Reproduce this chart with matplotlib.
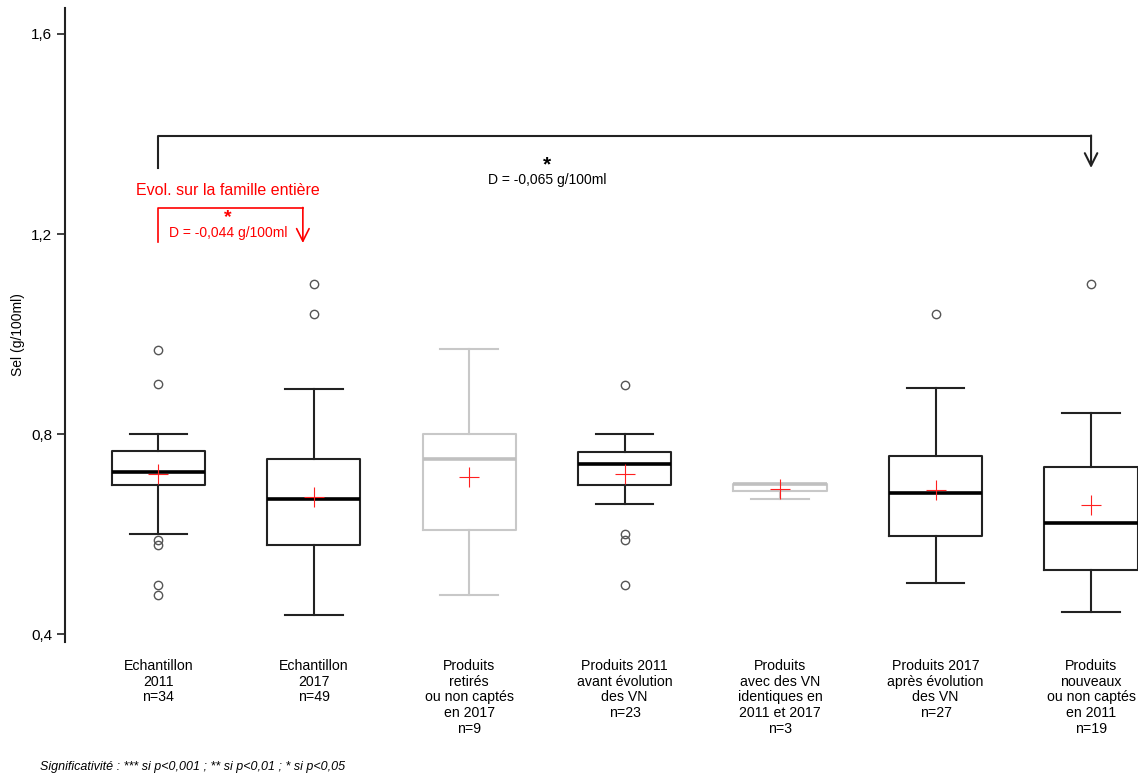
import matplotlib
matplotlib.use('Agg')
import matplotlib.pyplot as plt
from matplotlib.ticker import FuncFormatter

plt.rcParams['font.family'] = ['Liberation Sans', 'DejaVu Sans']

# box statistics (g/100ml)
labels = ["Echantillon\n2011\nn=34", "Echantillon\n2017\nn=49",
          "Produits\nretirés\nou non captés\nen 2017\nn=9",
          "Produits 2011\navant évolution\ndes VN\nn=23",
          "Produits\navec des VN\nidentiques en\n2011 et 2017\nn=3",
          "Produits 2017\naprès évolution\ndes VN\nn=27",
          "Produits\nnouveaux\nou non captés\nen 2011\nn=19"]
whislo = [0.600, 0.439, 0.479, 0.659, 0.670, 0.502, 0.444]
q1 = [0.699, 0.579, 0.609, 0.699, 0.685, 0.597, 0.528]
med = [0.724, 0.669, 0.749, 0.739, 0.700, 0.682, 0.622]
q3 = [0.766, 0.749, 0.800, 0.763, 0.700, 0.756, 0.733]
whishi = [0.800, 0.889, 0.969, 0.800, 0.700, 0.891, 0.842]
means = [0.720, 0.673, 0.715, 0.721, 0.690, 0.689, 0.657]
fliers = [[0.968, 0.899, 0.589, 0.579, 0.499, 0.478],
          [1.100, 1.040],
          [],
          [0.898, 0.600, 0.589, 0.498],
          [],
          [1.040],
          [1.100]]
greyed = [False, False, True, False, True, False, False]

fig = plt.figure(figsize=(11.41, 7.77), dpi=100)
ax = fig.add_axes([65/1141, 1-642/777, (1137.7-65)/1141, (642-8)/777])

pos = list(range(1, len(labels)+1))
for i in range(len(labels)):
    col = '#c8c8c8' if greyed[i] else '#222222'
    st = dict(whislo=whislo[i], q1=q1[i], med=med[i], q3=q3[i],
              whishi=whishi[i], fliers=fliers[i], label='')
    ax.bxp([st], positions=[pos[i]], widths=0.6, capwidths=0.37,
           boxprops=dict(color=col, lw=1.5),
           whiskerprops=dict(color=col, lw=1.5),
           capprops=dict(color=col, lw=1.5),
           medianprops=dict(color='#c0c0c0' if greyed[i] else 'black', lw=2.6),
           flierprops=dict(marker='o', markersize=6, markerfacecolor='none',
                           markeredgecolor='#555555', markeredgewidth=1.0))
ax.plot(pos, means, '+', color='#ff2020', ms=14, mew=0.8, ls='none', zorder=5)

# black comparison bracket 2011 -> new products
ax.plot([1, 1, 7], [1.332, 1.396, 1.396], color='#222222', lw=1.5)
ax.annotate('', xy=(7, 1.332), xytext=(7, 1.397),
            arrowprops=dict(arrowstyle='->,head_length=0.9,head_width=0.45',
                            color='#222222', lw=1.5, shrinkA=0, shrinkB=0))
ax.text(3.5, 1.338, '*', ha='center', va='center', fontsize=15, fontweight='bold')
ax.text(3.5, 1.308, 'D = -0,065 g/100ml', ha='center', va='center', fontsize=10)

# red bracket: whole family
ax.text(1.45, 1.286, 'Evol. sur la famille entière', ha='center', va='center',
        fontsize=11.5, color='red')
ax.plot([1, 1, 1.93], [1.183, 1.252, 1.252], color='red', lw=1.2)
ax.annotate('', xy=(1.93, 1.182), xytext=(1.93, 1.253),
            arrowprops=dict(arrowstyle='->,head_length=0.9,head_width=0.45',
                            color='red', lw=1.2, shrinkA=0, shrinkB=0))
ax.text(1.45, 1.233, '*', ha='center', va='center', fontsize=14,
        fontweight='bold', color='red')
ax.text(1.45, 1.202, 'D = -0,044 g/100ml', ha='center', va='center',
        fontsize=10, color='red')

ax.set_xlim(0.4, 7.3)
ax.set_ylim(0.384, 1.652)
ax.set_yticks([0.4, 0.8, 1.2, 1.6])
ax.yaxis.set_major_formatter(FuncFormatter(lambda v, p: f"{v:.1f}".replace('.', ',')))
ax.set_xticks(pos)
ax.set_xticklabels(labels, fontsize=10.2, linespacing=1.17)
ax.tick_params(axis='x', length=0, pad=12)
ax.tick_params(axis='y', length=6, width=1.2, labelsize=11, pad=3, color='#222222')
for s in ['top', 'right', 'bottom']:
    ax.spines[s].set_visible(False)
ax.spines['left'].set_linewidth(1.5)
ax.spines['left'].set_color('#222222')
ax.set_ylabel('Sel (g/100ml)', fontsize=10)
ax.yaxis.set_label_coords(-0.037, 0.485)

fig.text(40/1141, 1-767/777, 'Significativité : *** si p<0,001 ; ** si p<0,01 ; * si p<0,05',
         fontsize=9, style='italic', va='center')

fig.savefig('out.png', dpi=100)
